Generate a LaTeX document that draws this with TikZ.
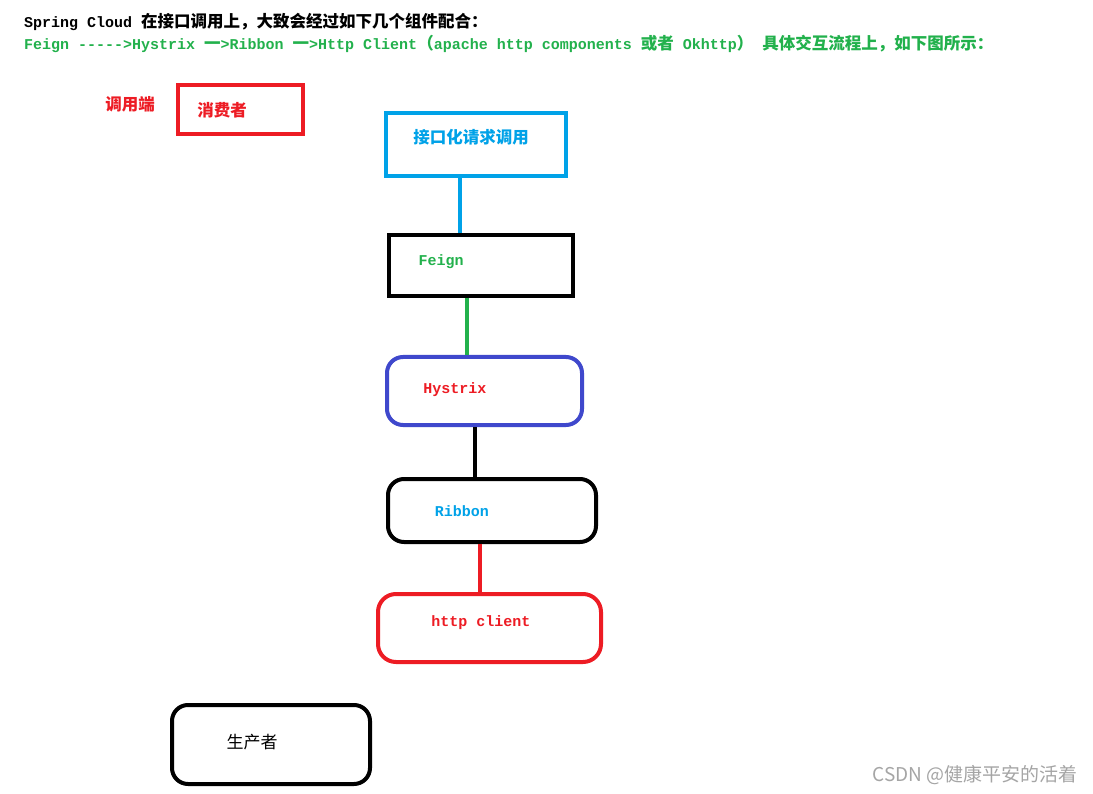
\documentclass[tikz,border=0pt]{standalone}
\usepackage{fontspec}
\newfontfamily\mono{Liberation Mono}
\newfontfamily\cjk{Noto Sans CJK SC}
\definecolor{pred}{RGB}{237,28,36}
\definecolor{pcyan}{RGB}{0,162,232}
\definecolor{pblue}{RGB}{63,72,204}
\definecolor{pgreen}{RGB}{34,177,76}
\definecolor{wm}{RGB}{165,165,165}
\begin{document}
\begin{tikzpicture}[x=1pt,y=-1pt,
  box/.style={draw,line width=4pt,minimum width=#1,inner sep=0pt},
  rbox/.style={draw,line width=4pt,rounded corners=16pt,inner sep=0pt},
  lbl/.style={font=\mono\bfseries\fontsize{15}{16}\selectfont,inner sep=0pt},
  clbl/.style={font=\cjk\bfseries\fontsize{16.5}{18}\selectfont,inner sep=0pt},
  conn/.style={line width=4.5pt}]
\useasboundingbox[fill=white] (0,0) rectangle (1093,794);

% header
\node[anchor=base west,inner sep=0pt,font=\mono\bfseries\fontsize{15}{16}\selectfont] (h1) at (24,28)
  {Spring Cloud {\cjk\fontsize{16.5}{18}\selectfont 在接口调用上，大致会经过如下几个组件配合：}};
\node[anchor=base west,inner sep=0pt,text=pgreen,font=\mono\bfseries\fontsize{15}{16}\selectfont] (h2) at (24,50)
  {Feign -{}-{}-{}-{}->Hystrix {\cjk\fontsize{16.5}{18}\selectfont 一}>Ribbon {\cjk\fontsize{16.5}{18}\selectfont 一}>Http Client{\cjk\fontsize{16.5}{18}\selectfont （}apache http components {\cjk\fontsize{16.5}{18}\selectfont 或者} Okhttp{\cjk\fontsize{16.5}{18}\selectfont ）} {\cjk\fontsize{16.5}{18}\selectfont 具体交互流程上，如下图所示：}};

% consumer
\node[clbl,text=pred] (side) at (130,104) {调用端};
\node[box=125pt,minimum height=49pt,draw=pred] (consumer) at (240.5,109.5) {};
\node[clbl,text=pred] (consumertxt) at (222,110) {消费者};

% chain
\node[box=180pt,minimum height=63pt,draw=pcyan] (iface) at (476,144.5) {};
\node[clbl,text=pcyan] (ifacetxt) at (471,137) {接口化请求调用};

\node[box=184pt,minimum height=61pt,draw=black] (feign) at (481,265.5) {};
\node[lbl,text=pgreen] (feigntxt) at (441,262) {Feign};

\node[rbox,minimum width=195pt,minimum height=68pt,draw=pblue] (hystrix) at (484.5,391) {};
\node[lbl,text=pred] (hystrixtxt) at (455,390) {Hystrix};

\node[rbox,minimum width=208pt,minimum height=63pt,draw=black] (ribbon) at (492,510.5) {};
\node[lbl,text=pcyan] (ribbontxt) at (462,511) {Ribbon};

\node[rbox,minimum width=223pt,minimum height=68pt,draw=pred,rounded corners=18pt] (http) at (489.5,628) {};
\node[lbl,text=pred] (httptxt) at (481,623) {http client};

\node[rbox,minimum width=198pt,minimum height=79pt,draw=black] (producer) at (271,744.5) {};
\node[inner sep=0pt,font=\cjk\fontsize{17}{18}\selectfont] (producertxt) at (252,742) {生产者};

% connectors
\draw[conn,pcyan] (iface.south -| 460,0) -- (feign.north -| 460,0);
\draw[conn,pgreen] (feign.south -| 467,0) -- (hystrix.north -| 467,0);
\draw[conn,black] (hystrix.south -| 475,0) -- (ribbon.north -| 475,0);
\draw[conn,pred] (ribbon.south -| 480,0) -- ([yshift=-4pt]http.north -| 480,0);

% watermark
\node[anchor=east,inner sep=0pt,text=wm,font=\cjk\fontsize{19}{20}\selectfont] (wmark) at (1078,775) {CSDN @健康平安的活着};
\end{tikzpicture}
\end{document}
